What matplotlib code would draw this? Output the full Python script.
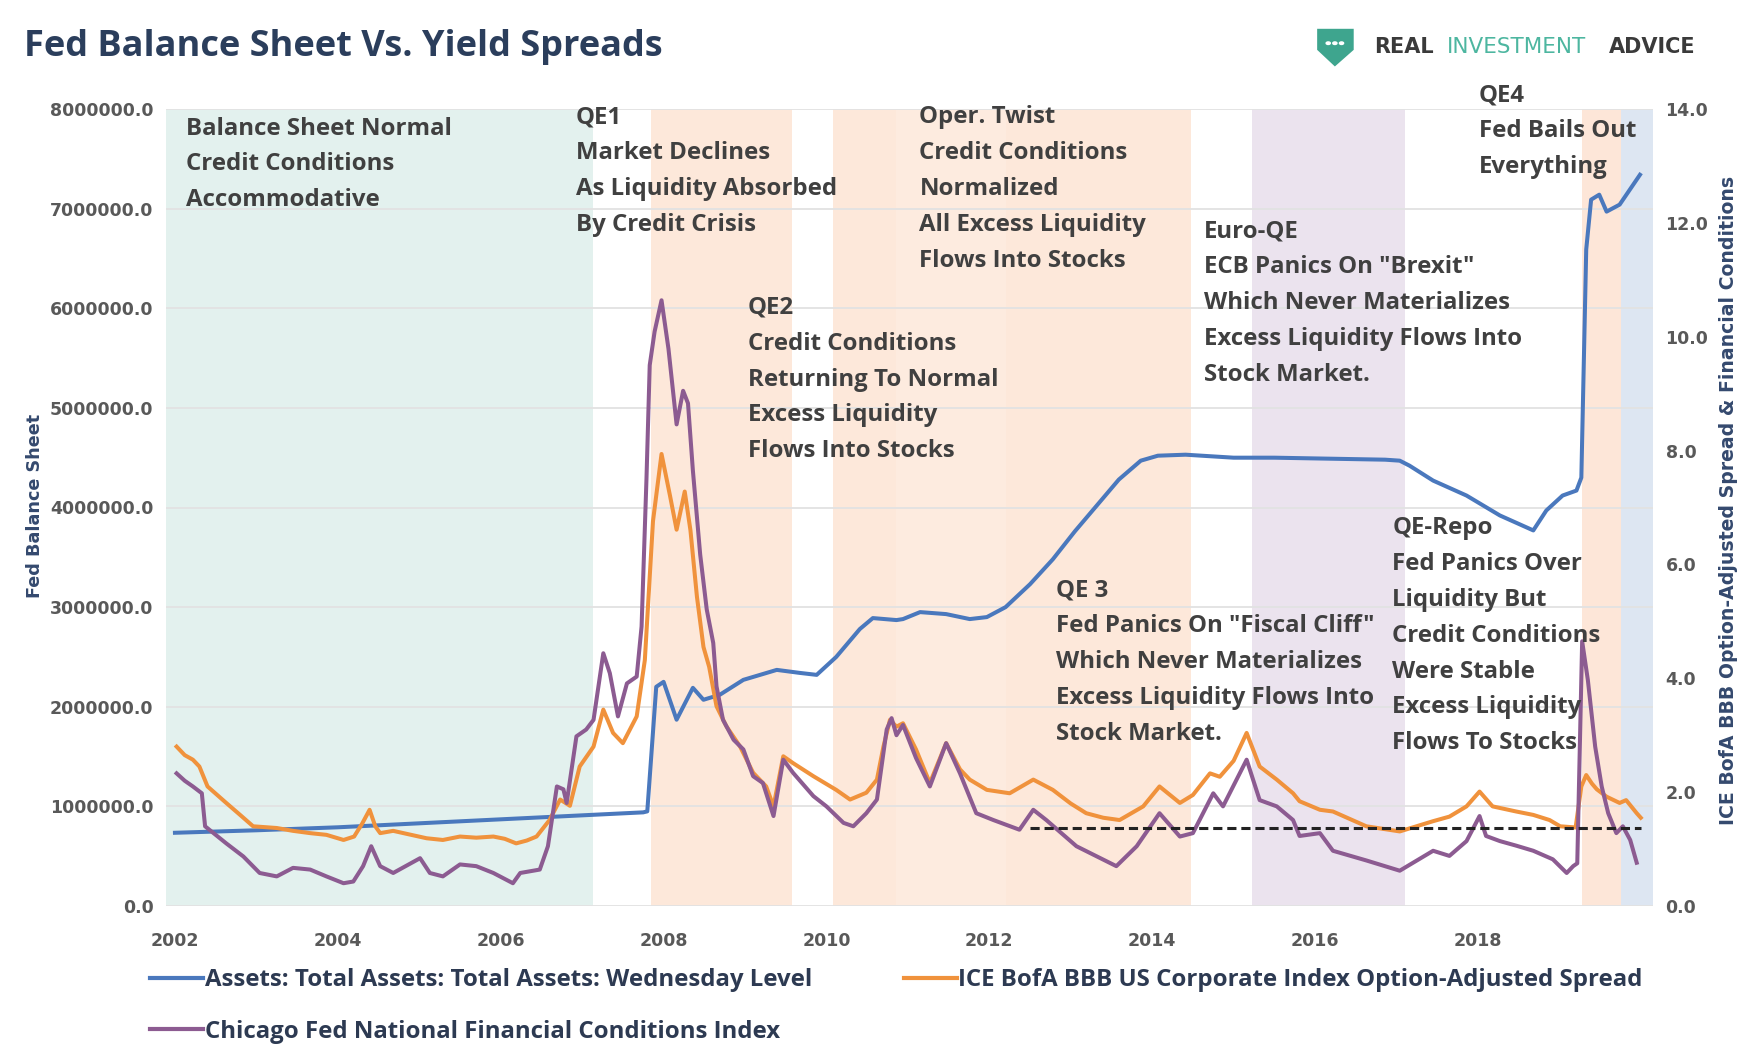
import numpy as np
import matplotlib.pyplot as plt
from matplotlib.lines import Line2D
from matplotlib.patches import Polygon, Circle

# ---- data ----
years_ticks = [2002, 2004, 2006, 2008, 2010, 2012, 2014, 2016, 2018]

assets_years = [2002.00, 2003.00, 2004.00, 2005.00, 2006.00, 2007.00, 2007.75, 2007.80, 2007.91, 2008.00,
                2008.16, 2008.36, 2008.49, 2008.69, 2008.98, 2009.39, 2009.67, 2009.88, 2010.12, 2010.41,
                2010.57, 2010.86, 2010.94, 2011.15, 2011.47, 2011.76, 2011.97, 2012.20, 2012.50, 2012.78,
                2013.05, 2013.32, 2013.59, 2013.86, 2014.07, 2014.41, 2015.00, 2015.50, 2016.18, 2016.86,
                2017.04, 2017.16, 2017.45, 2017.86, 2018.27, 2018.68, 2018.84, 2019.04, 2019.21, 2019.27,
                2019.33, 2019.39, 2019.49, 2019.58, 2019.74, 2019.99]
assets = [735000, 760000, 790000, 830000, 870000, 910000, 940000, 950000, 2200000, 2250000,
          1870000, 2190000, 2070000, 2120000, 2270000, 2370000, 2340000, 2320000, 2500000, 2780000,
          2890000, 2870000, 2880000, 2950000, 2930000, 2880000, 2900000, 3000000, 3230000, 3480000,
          3760000, 4020000, 4280000, 4470000, 4520000, 4530000, 4500000, 4500000, 4490000, 4480000,
          4470000, 4420000, 4270000, 4120000, 3920000, 3770000, 3970000, 4120000, 4170000, 4300000,
          6590000, 7090000, 7140000, 6970000, 7040000, 7340000]

bbb_years = [2002.02, 2002.12, 2002.22, 2002.30, 2002.40, 2002.63, 2002.80, 2002.96, 2003.25, 2003.45,
             2003.66, 2003.86, 2004.07, 2004.20, 2004.30, 2004.39, 2004.46, 2004.52, 2004.68, 2004.90,
             2005.09, 2005.29, 2005.50, 2005.70, 2005.91, 2006.05, 2006.19, 2006.32, 2006.44, 2006.60,
             2006.73, 2006.85, 2006.97, 2007.14, 2007.26, 2007.38, 2007.50, 2007.67, 2007.77, 2007.87,
             2007.975, 2008.08, 2008.16, 2008.26, 2008.33, 2008.41, 2008.49, 2008.56, 2008.65, 2008.77,
             2008.94, 2009.10, 2009.26, 2009.35, 2009.47, 2009.59, 2009.84, 2010.12, 2010.29, 2010.49,
             2010.62, 2010.70, 2010.78, 2010.86, 2010.94, 2011.10, 2011.27, 2011.47, 2011.64, 2011.76,
             2011.97, 2012.25, 2012.54, 2012.78, 2013.00, 2013.19, 2013.40, 2013.60, 2013.89, 2014.09,
             2014.34, 2014.50, 2014.71, 2014.83, 2015.00, 2015.16, 2015.32, 2015.53, 2015.73, 2015.81,
             2016.06, 2016.22, 2016.63, 2017.04, 2017.45, 2017.65, 2017.86, 2018.02, 2018.18, 2018.47,
             2018.68, 2018.88, 2019.01, 2019.20, 2019.27, 2019.33, 2019.40, 2019.46, 2019.58, 2019.74,
             2019.82, 2019.95, 2020.00]
bbb_spread = [2.80, 2.65, 2.57, 2.45, 2.10, 1.81, 1.60, 1.40, 1.37, 1.32,
              1.28, 1.25, 1.16, 1.22, 1.45, 1.69, 1.40, 1.28, 1.32, 1.25,
              1.19, 1.16, 1.22, 1.20, 1.22, 1.18, 1.10, 1.15, 1.22, 1.51,
              1.87, 1.76, 2.45, 2.80, 3.45, 3.04, 2.86, 3.33, 4.32, 6.76,
              7.94, 7.20, 6.61, 7.28, 6.60, 5.43, 4.55, 4.20, 3.51, 3.16,
              2.80, 2.34, 2.10, 1.75, 2.63, 2.51, 2.28, 2.04, 1.87, 1.99,
              2.22, 2.80, 3.27, 3.15, 3.21, 2.75, 2.16, 2.86, 2.40, 2.22,
              2.04, 1.98, 2.22, 2.04, 1.80, 1.63, 1.55, 1.51, 1.75, 2.10,
              1.81, 1.95, 2.33, 2.27, 2.55, 3.04, 2.45, 2.22, 1.98, 1.84,
              1.69, 1.66, 1.40, 1.31, 1.49, 1.57, 1.75, 2.01, 1.75, 1.66,
              1.60, 1.51, 1.40, 1.38, 2.10, 2.30, 2.15, 2.05, 1.92, 1.81,
              1.86, 1.63, 1.55]

nfci_years = [2002.02, 2002.12, 2002.22, 2002.33, 2002.37, 2002.63, 2002.84, 2003.04, 2003.25, 2003.45,
              2003.66, 2003.86, 2004.07, 2004.19, 2004.31, 2004.41, 2004.52, 2004.68, 2005.01, 2005.13,
              2005.29, 2005.50, 2005.70, 2005.91, 2006.15, 2006.24, 2006.48, 2006.58, 2006.69, 2006.77,
              2006.81, 2006.93, 2007.05, 2007.14, 2007.26, 2007.34, 2007.44, 2007.55, 2007.67, 2007.73,
              2007.79, 2007.83, 2007.89, 2007.975, 2008.06, 2008.16, 2008.24, 2008.30, 2008.36, 2008.45,
              2008.53, 2008.61, 2008.65, 2008.73, 2008.86, 2008.98, 2009.10, 2009.22, 2009.35, 2009.47,
              2009.59, 2009.84, 2010.00, 2010.21, 2010.33, 2010.49, 2010.62, 2010.74, 2010.80, 2010.86,
              2010.94, 2011.10, 2011.27, 2011.47, 2011.64, 2011.84, 2012.05, 2012.37, 2012.54, 2012.70,
              2013.07, 2013.56, 2013.81, 2014.09, 2014.34, 2014.50, 2014.75, 2014.87, 2015.16, 2015.32,
              2015.53, 2015.73, 2015.81, 2016.06, 2016.22, 2016.63, 2017.04, 2017.45, 2017.65, 2017.86,
              2018.02, 2018.10, 2018.27, 2018.47, 2018.68, 2018.92, 2019.09, 2019.17, 2019.22, 2019.28,
              2019.35, 2019.44, 2019.52, 2019.60, 2019.70, 2019.78, 2019.87, 2019.95]
nfci = [2.33, 2.20, 2.10, 1.98, 1.40, 1.10, 0.87, 0.58, 0.52, 0.67,
        0.64, 0.52, 0.40, 0.43, 0.70, 1.05, 0.70, 0.58, 0.84, 0.58,
        0.52, 0.73, 0.70, 0.58, 0.40, 0.58, 0.64, 1.05, 2.10, 2.05,
        1.81, 2.98, 3.10, 3.27, 4.44, 4.09, 3.33, 3.91, 4.03, 4.91,
        7.50, 9.50, 10.09, 10.64, 9.79, 8.46, 9.05, 8.83, 7.65, 6.17,
        5.21, 4.62, 3.86, 3.27, 2.92, 2.75, 2.28, 2.16, 1.58, 2.57,
        2.34, 1.93, 1.75, 1.46, 1.40, 1.63, 1.87, 3.10, 3.30, 3.00,
        3.18, 2.60, 2.10, 2.86, 2.33, 1.63, 1.51, 1.34, 1.69, 1.51,
        1.05, 0.70, 1.05, 1.63, 1.22, 1.28, 1.98, 1.75, 2.57, 1.86,
        1.75, 1.51, 1.23, 1.28, 0.97, 0.80, 0.62, 0.97, 0.88, 1.14,
        1.58, 1.23, 1.14, 1.06, 0.97, 0.82, 0.58, 0.70, 0.75, 4.65,
        3.97, 2.80, 2.10, 1.63, 1.28, 1.40, 1.16, 0.76]

# shaded policy periods (start, end)
period_start = [2001.89, 2007.84, 2010.08, 2010.86, 2012.21, 2015.22, 2019.28, 2019.76]
period_end = [2007.13, 2009.58, 2010.86, 2012.21, 2014.48, 2017.10, 2019.76, 2020.15]
period_colors = ['#e3f1ee', '#fde8da', '#fde8da', '#fdebdf', '#fde8da', '#ebe3ee', '#fde6d8', '#dde6f2']

dash_years = [2012.50, 2020.00]
dash_level = [1.37, 1.37]

notes = [
    (168, 116, ["Balance Sheet Normal", "Credit Conditions", "Accommodative"]),
    (520, 106, ["QE1", "Market Declines", "As Liquidity Absorbed", "By Credit Crisis"]),
    (675, 278, ["QE2", "Credit Conditions", "Returning To Normal", "Excess Liquidity", "Flows Into Stocks"]),
    (830, 106, ["Oper. Twist", "Credit Conditions", "Normalized", "All Excess Liquidity", "Flows Into Stocks"]),
    (1087, 209, ["Euro-QE", "ECB Panics On \"Brexit\"", "Which Never Materializes",
                 "Excess Liquidity Flows Into", "Stock Market."]),
    (1335, 86, ["QE4", "Fed Bails Out", "Everything"]),
    (953, 533, ["QE 3", "Fed Panics On \"Fiscal Cliff\"", "Which Never Materializes",
                "Excess Liquidity Flows Into", "Stock Market."]),
    (1257, 477, ["QE-Repo", "Fed Panics Over", "Liquidity But", "Credit Conditions",
                 "Were Stable", "Excess Liquidity", "Flows To Stocks"]),
]

# ---- layout helpers (reference sketch coords -> figure fraction) ----
W, H = 1737, 1061
S = W / 1568


def fxy(x, y):
    return (x * S / W, 1 - y * S / H)


blue, orange, purple = '#4a78bd', '#f0923c', '#8c5b91'
tick_color = '#595959'
label_color = '#34496e'

fig = plt.figure(figsize=(W / 100, H / 100), dpi=100)
ax = fig.add_axes([166 / W, 1 - 906 / H, (1653 - 166) / W, (906 - 109) / H])
ax2 = ax.twinx()

for s0, s1, c in zip(period_start, period_end, period_colors):
    ax.axvspan(s0, s1, color=c, lw=0, zorder=0.2)

ax.plot(assets_years, assets, color=blue, lw=2.9, zorder=2)
ax2.plot(bbb_years, bbb_spread, color=orange, lw=2.9)
ax2.plot(nfci_years, nfci, color=purple, lw=2.9)
ax2.plot(dash_years, dash_level, color='#222222', lw=2.2, ls=(0, (3, 1.6)))

ax.set_xlim(2001.89, 2020.15)
ax.set_ylim(0, 8000000)
ax2.set_ylim(0, 14)
ax.set_yticks(np.arange(0, 8000001, 1000000))
ax.set_yticklabels([f"{v:.1f}" for v in np.arange(0, 8000001, 1000000)])
ax2.set_yticks(np.arange(0, 15, 2))
ax2.set_yticklabels([f"{v:.1f}" for v in np.arange(0, 15, 2)])
ax.set_xticks(years_ticks)
ax.set_xticklabels([str(y) for y in years_ticks])

ax.set_axisbelow(True)
ax.grid(axis='y', color='#e2e2e2', lw=1.3)
for a in (ax, ax2):
    for sp in a.spines.values():
        sp.set_visible(False)
tick_font = dict(family='DejaVu Sans', weight='bold', size=12.5)
ax.tick_params(axis='y', length=0, pad=9, colors=tick_color)
ax.tick_params(axis='x', length=0, pad=19, colors=tick_color)
ax2.tick_params(axis='y', length=0, pad=9, colors=tick_color)
for t in ax.get_yticklabels() + ax.get_xticklabels() + ax2.get_yticklabels():
    t.set_fontproperties(tick_font)

# axis titles
fig.text(*fxy(32, 457), "Fed Balance Sheet", rotation=90, ha='center', va='center',
         family='DejaVu Sans', weight='bold', size=12.7, color=label_color)
fig.text(*fxy(1560, 452), "ICE BofA BBB Option-Adjusted Spread & Financial Conditions", rotation=90,
         ha='center', va='center', family='DejaVu Sans', weight='bold', size=13.6, color=label_color)

# title
fig.text(*fxy(22, 42), "Fed Balance Sheet Vs. Yield Spreads", ha='left', va='center',
         family='Open Sans', weight='bold', size=26, color='#2b3e5c')

# logo
shield = [fxy(1189, 26), fxy(1222, 26), fxy(1222, 45), fxy(1205, 60), fxy(1189, 45)]
fig.patches.append(Polygon(shield, closed=True, transform=fig.transFigure, color='#3ea58e', lw=0))
for dx in (1199, 1205, 1211):
    fig.patches.append(Circle(fxy(dx, 39), 0.0012, transform=fig.transFigure, color='white'))
fig.text(*fxy(1240, 42), "REAL", ha='left', va='center', family='DejaVu Sans', weight='bold',
         size=15, color='#3a3a3a')
fig.text(*fxy(1306, 42), "INVESTMENT", ha='left', va='center', family='DejaVu Sans',
         size=15.5, color='#4db6a0')
fig.text(*fxy(1452, 42), "ADVICE", ha='left', va='center', family='DejaVu Sans', weight='bold',
         size=15, color='#3a3a3a')

# annotations
for x0, y0, lines in notes:
    for i, line in enumerate(lines):
        fig.text(*fxy(x0, y0 + i * 32.3), line, ha='left', va='center', family='Open Sans',
                 weight='bold', size=17.3, color='#404040')

# legend
h_blue = Line2D([], [], color=blue, lw=3)
h_orange = Line2D([], [], color=orange, lw=3)
h_purple = Line2D([], [], color=purple, lw=3)
leg_font = dict(family='Open Sans', weight='bold', size=17.3)
fig.legend([h_blue, h_purple],
           ["Assets: Total Assets: Total Assets: Wednesday Level",
            "Chicago Fed National Financial Conditions Index"],
           loc='center left', bbox_to_anchor=fxy(125, 908), frameon=False, borderpad=0,
           handlelength=2.2, handletextpad=0.06, labelspacing=1.15, prop=leg_font,
           labelcolor='#2d3a52')
fig.legend([h_orange], ["ICE BofA BBB US Corporate Index Option-Adjusted Spread"],
           loc='center left', bbox_to_anchor=fxy(805, 885), frameon=False, borderpad=0,
           handlelength=2.2, handletextpad=0.06, prop=leg_font, labelcolor='#2d3a52')

fig.savefig("out.png", dpi=100)
